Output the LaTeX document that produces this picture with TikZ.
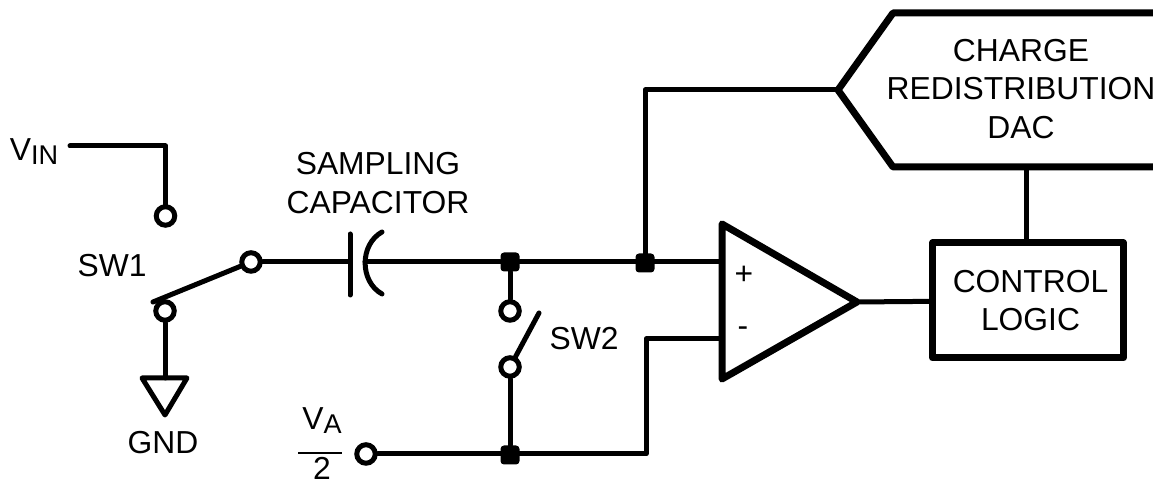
\documentclass[tikz,border=0pt]{standalone}
\usepackage{fontspec}
\setmainfont{Liberation Sans}
\newcommand{\lowtext}[1]{\raisebox{-0.08cm}{\fontsize{15.4}{17}\selectfont #1}}

\begin{document}
\begin{tikzpicture}[
    wire/.style={line width=0.1cm, line join=round, line cap=round},
    heavy/.style={line width=0.14cm, line join=round},
    terminal/.style={circle, draw, line width=0.1cm, fill=white, inner sep=0pt, minimum size=0.37cm},
    junction/.style={rectangle, rounded corners=0.07cm, fill=black, inner sep=0pt, minimum size=0.38cm},
    label/.style={align=center, inner sep=0pt, font=\fontsize{18.1}{21.9}\selectfont}
]
    \useasboundingbox (0,0) rectangle (23.06,9.74);

    % Terminals
    \node[terminal] (swa) at (3.31,5.42) {};
    \node[terminal] (swb) at (5.02,4.50) {};
    \node[terminal] (swc) at (3.30,3.52) {};
    \node[terminal] (swd) at (10.20,3.52) {};
    \node[terminal] (swe) at (10.20,2.40) {};
    \node[terminal] (vref) at (7.32,0.66) {};

    % Junctions
    \node[junction] (upnode) at (10.20,4.50) {};
    \node[junction] (dacnode) at (12.90,4.48) {};
    \node[junction] (downnode) at (10.20,0.64) {};

    % Free ends
    \coordinate (vinend) at (1.40,6.82);
    \coordinate (sw1end) at (3.06,3.70);
    \coordinate (sw2end) at (10.78,3.48);
    \coordinate (gndtop) at (3.30,2.18);
    \coordinate (gndleft) at (2.84,2.18);
    \coordinate (gndright) at (3.74,2.18);
    \coordinate (gndtip) at (3.30,1.44);
    \coordinate (downbend) at (12.92,2.96);
    \coordinate (uprail) at (10.20,0.66);
    \coordinate (uptap) at (12.90,4.50);

    % Capacitor
    \coordinate (capleft) at (7.00,4.50);
    \coordinate (capright) at (7.30,4.50);
    \coordinate (plateup) at (7.00,5.06);
    \coordinate (platedown) at (7.00,3.84);
    \coordinate (curveup) at (7.64,5.10);
    \coordinate (curvedown) at (7.64,3.86);

    % Comparator
    \coordinate (amptop) at (14.44,5.26);
    \coordinate (ampbottom) at (14.44,2.16);
    \coordinate (ampout) at (17.14,3.70);
    \coordinate (ampplus) at (14.44,4.50);
    \coordinate (ampminus) at (14.44,2.96);

    % DAC outline
    \coordinate (dactopright) at (23.06,9.48);
    \coordinate (dactop) at (17.86,9.48);
    \coordinate (dactip) at (16.76,7.94);
    \coordinate (dacbottom) at (17.86,6.40);
    \coordinate (dacbottomright) at (23.06,6.40);
    \coordinate (daclink) at (20.52,6.40);

    % Blocks
    \node[heavy, draw, label, minimum width=3.82cm, minimum height=2.30cm] (logic) at (20.56,3.73) {\hspace{0.1cm}CONTROL\\\hspace{0.1cm}LOGIC};
    \node[label] (dac) at (20.42,7.96) {CHARGE\\REDISTRIBUTION\\DAC};

    % Wires
    \draw[wire] (vinend) -| (swa);
    \draw[wire] (sw1end) -- (swb);
    \draw[wire] (swc) -- (gndtop);
    \draw[wire] (swb) -- (capleft);
    \draw[wire] (capright) -- (upnode);
    \draw[wire] (upnode) -- (uptap);
    \draw[wire] (uptap) -- (ampplus);
    \draw[wire] (upnode) -- (swd);
    \draw[wire] (swe) -- (sw2end);
    \draw[wire] (swe) -- (downnode);
    \draw[wire] (vref) -- (uprail);
    \draw[wire] (uprail) -| (downbend) -- (ampminus);
    \draw[wire] (uptap) |- (dactip);
    \draw[wire] (ampout) -- (logic);
    \draw[wire] (logic.north -| daclink) -- (daclink);

    % Symbols
    \draw[wire] (gndleft) -- (gndright) -- (gndtip) -- cycle;
    \draw[wire] (plateup) -- (platedown);
    \draw[wire] (curveup) .. controls (7.19,4.85) and (7.19,4.11) .. (curvedown);
    \draw[heavy] (amptop) -- (ampout) -- (ampbottom) -- cycle;
    \draw[heavy] (dactopright) -- (dactop) -- (dactip) -- (dacbottom) -- (dacbottomright);

    % Labels
    \node[label, anchor=base] (vin) at (0.68,6.52) {V\lowtext{IN}};
    \node[label] (sw1) at (2.24,4.42) {SW1};
    \node[label] (sw2) at (11.68,2.96) {SW2};
    \node[label] (gnd) at (3.26,0.88) {GND};
    \node[label] (sampling) at (7.56,6.08) {SAMPLING\\CAPACITOR};
    \node[label] (plus) at (14.88,4.24) {+};
    \node[label] (minus) at (14.86,3.10) {-};
    \node[label, anchor=base] (vatop) at (6.44,1.14) {V\lowtext{A}};
    \node[label, anchor=base] (vabottom) at (6.44,0.14) {2};
    \coordinate (barleft) at (5.96,0.68);
    \coordinate (barright) at (6.84,0.68);
    \draw[line width=0.03cm] (barleft) -- (barright);
\end{tikzpicture}
\end{document}
